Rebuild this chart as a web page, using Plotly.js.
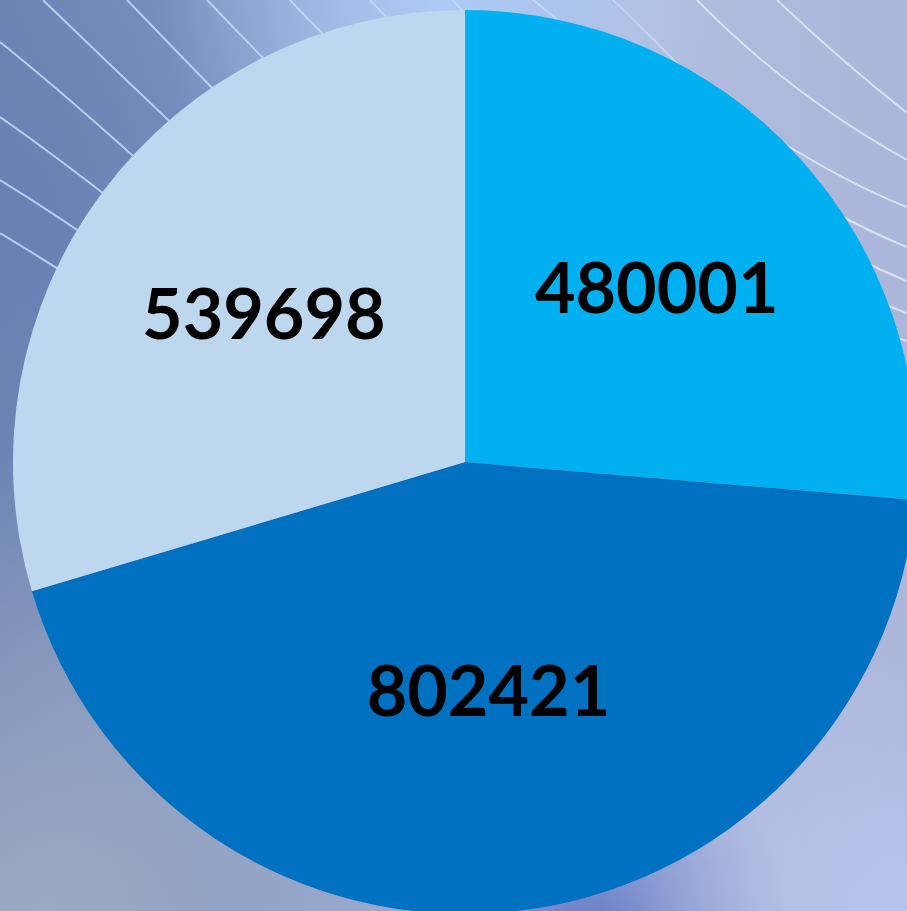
<!DOCTYPE html>
<html>
<head>
<meta charset="utf-8">
<script src="https://cdn.plot.ly/plotly-3.0.1.min.js"></script>
<style>
  html, body { margin: 0; padding: 0; width: 907px; height: 911px; overflow: hidden; }
  #bg { position: absolute; left: 0; top: 0; width: 907px; height: 911px; z-index: 0; }
  #chart { position: absolute; left: 13px; top: 10px; width: 904px; height: 904px; z-index: 1; }
</style>
</head>
<body>
<svg id="bg" width="907" height="911" xmlns="http://www.w3.org/2000/svg">
  <defs>
    <linearGradient id="base" x1="0" y1="0" x2="1" y2="0">
      <stop offset="0" stop-color="#7286B6"/>
      <stop offset="0.35" stop-color="#8FA3CF"/>
      <stop offset="0.7" stop-color="#B2BCDC"/>
      <stop offset="1" stop-color="#ACB6DA"/>
    </linearGradient>
    <radialGradient id="topglow" cx="0.5" cy="0" r="0.32">
      <stop offset="0" stop-color="#AECBF6" stop-opacity="1"/>
      <stop offset="1" stop-color="#AECBF6" stop-opacity="0"/>
    </radialGradient>
    <radialGradient id="leftdark" cx="0" cy="0.25" r="0.45">
      <stop offset="0" stop-color="#6880B2" stop-opacity="1"/>
      <stop offset="1" stop-color="#6880B2" stop-opacity="0"/>
    </radialGradient>
    <radialGradient id="botleft" cx="0.05" cy="1" r="0.5">
      <stop offset="0" stop-color="#9CAAC2" stop-opacity="1"/>
      <stop offset="1" stop-color="#9CAAC2" stop-opacity="0"/>
    </radialGradient>
    <radialGradient id="botmid" cx="0.65" cy="1.02" r="0.22">
      <stop offset="0" stop-color="#6A7EC8" stop-opacity="1"/>
      <stop offset="1" stop-color="#6A7EC8" stop-opacity="0"/>
    </radialGradient>
    <radialGradient id="botright" cx="1" cy="1" r="0.3">
      <stop offset="0" stop-color="#B6C4EC" stop-opacity="1"/>
      <stop offset="1" stop-color="#B6C4EC" stop-opacity="0"/>
    </radialGradient>
  </defs>
  <rect x="0" y="0" width="907" height="911" fill="url(#base)"/>
  <rect x="0" y="0" width="907" height="911" fill="url(#leftdark)"/>
  <rect x="0" y="0" width="907" height="911" fill="url(#botleft)"/>
  <rect x="0" y="0" width="907" height="911" fill="url(#topglow)"/>
  <rect x="0" y="0" width="907" height="911" fill="url(#botmid)"/>
  <rect x="0" y="0" width="907" height="911" fill="url(#botright)"/>
  <g fill="none" stroke="#C8D8FA" stroke-width="2" stroke-opacity="0.85">
    <path d="M0,233 Q50,263 100,296"/>
    <path d="M0,180 Q60,217 115,256"/>
    <path d="M0,117 Q55,155 140,222"/>
    <path d="M0,42 Q70,98 165,185"/>
    <path d="M43,0 Q105,60 205,155"/>
    <path d="M127,0 Q175,50 245,122"/>
    <path d="M207,0 Q250,45 295,90"/>
    <path d="M290,0 Q320,32 355,65"/>
    <path d="M370,0 Q385,15 405,38"/>
    <path d="M453,0 Q460,8 470,20"/>
    <path d="M533,0 Q550,13 575,35"/>
    <path d="M613,0 Q650,35 705,92"/>
  </g>
  <g fill="none" stroke="#E2E8F8" stroke-width="2" stroke-opacity="0.85">
    <path d="M697,0 Q790,95 907,160"/>
    <path d="M777,0 Q840,60 907,113"/>
    <path d="M770,135 Q850,185 907,207"/>
    <path d="M830,210 Q870,232 907,247"/>
    <path d="M850,255 Q880,270 907,281"/>
    <path d="M870,298 Q890,307 907,313"/>
    <path d="M880,332 Q895,337 907,341"/>
  </g>
</svg>
<div id="chart"></div>
<script>
const categories = ['Part 1', 'Part 2', 'Part 3'];
const values = [480001, 802421, 539698];
const sliceColors = ['#00B0F0', '#0070C0', '#BDD7EE'];

Plotly.newPlot('chart', [{
  type: 'pie',
  labels: categories,
  values: values,
  sort: false,
  direction: 'clockwise',
  rotation: 0,
  marker: { colors: sliceColors, line: { width: 0 } },
  textinfo: 'value',
  texttemplate: '%{value:d}',
  textposition: 'inside',
  insidetextorientation: 'horizontal',
  insidetextfont: { family: 'Lato, sans-serif', size: 70, color: '#000000', weight: 'bold' },
  hoverinfo: 'skip',
  domain: { x: [0, 1], y: [0, 1] }
}], {
  width: 904,
  height: 904,
  margin: { l: 0, r: 0, t: 0, b: 0, pad: 0 },
  paper_bgcolor: 'rgba(0,0,0,0)',
  plot_bgcolor: 'rgba(0,0,0,0)',
  showlegend: false
}, { displayModeBar: false, staticPlot: true });
</script>
</body>
</html>
